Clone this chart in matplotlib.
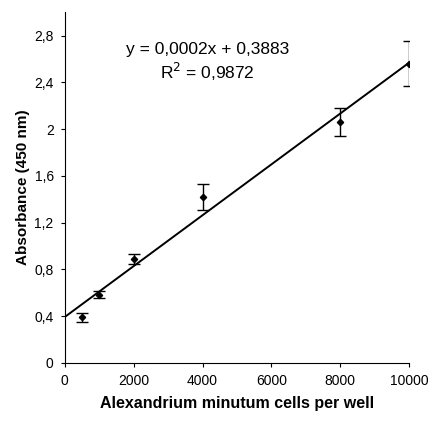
import matplotlib
matplotlib.use("Agg")
import matplotlib.pyplot as plt
import numpy as np

cells = np.array([500, 1000, 2000, 4000, 8000, 10000])
absorbance = np.array([0.39, 0.585, 0.89, 1.42, 2.06, 2.56])
errors = np.array([0.04, 0.03, 0.04, 0.11, 0.12, 0.19])
y_ticks = [0, 0.4, 0.8, 1.2, 1.6, 2.0, 2.4, 2.8]
x_ticks = [0, 2000, 4000, 6000, 8000, 10000]

plt.rcParams['font.family'] = ['Liberation Sans', 'DejaVu Sans']

fig = plt.figure(figsize=(4.32, 4.21), dpi=100)
ax = fig.add_axes([0.150, 0.138, 0.797, 0.833])

# linear trend line
slope, intercept = np.polyfit(cells, absorbance, 1)
xs = np.array([0, 10000])
ax.plot(xs, slope * xs + intercept, color='black', lw=1.4, zorder=2)

ax.errorbar(cells, absorbance, yerr=errors, fmt='D', color='black', ms=3.2,
            ecolor='black', elinewidth=1, capsize=4, capthick=1, zorder=3)

ax.set_xlim(0, 10000)
ax.set_ylim(0, 3.0)
ax.set_xticks(x_ticks)
ax.set_yticks(y_ticks)
ax.set_xticklabels([str(t) for t in x_ticks], fontsize=10)
ax.set_yticklabels([('%g' % t).replace('.', ',') for t in y_ticks], fontsize=10)
ax.tick_params(direction='out', length=3, width=0.8, pad=5)

for s in ['top', 'right']:
    ax.spines[s].set_visible(False)
for s in ['left', 'bottom']:
    ax.spines[s].set_linewidth(0.8)

ax.set_xlabel('Alexandrium minutum cells per well', fontsize=11.5, fontweight='bold', labelpad=6)
ax.set_ylabel('Absorbance (450 nm)', fontsize=11, fontweight='bold', labelpad=3)

ax.text(4150, 2.68, 'y = 0,0002x + 0,3883', ha='center', va='center', fontsize=12.5)
ax.text(4150, 2.485, r'R$^2$ = 0,9872', ha='center', va='center', fontsize=12.5)

fig.savefig('out.png', dpi=100)
